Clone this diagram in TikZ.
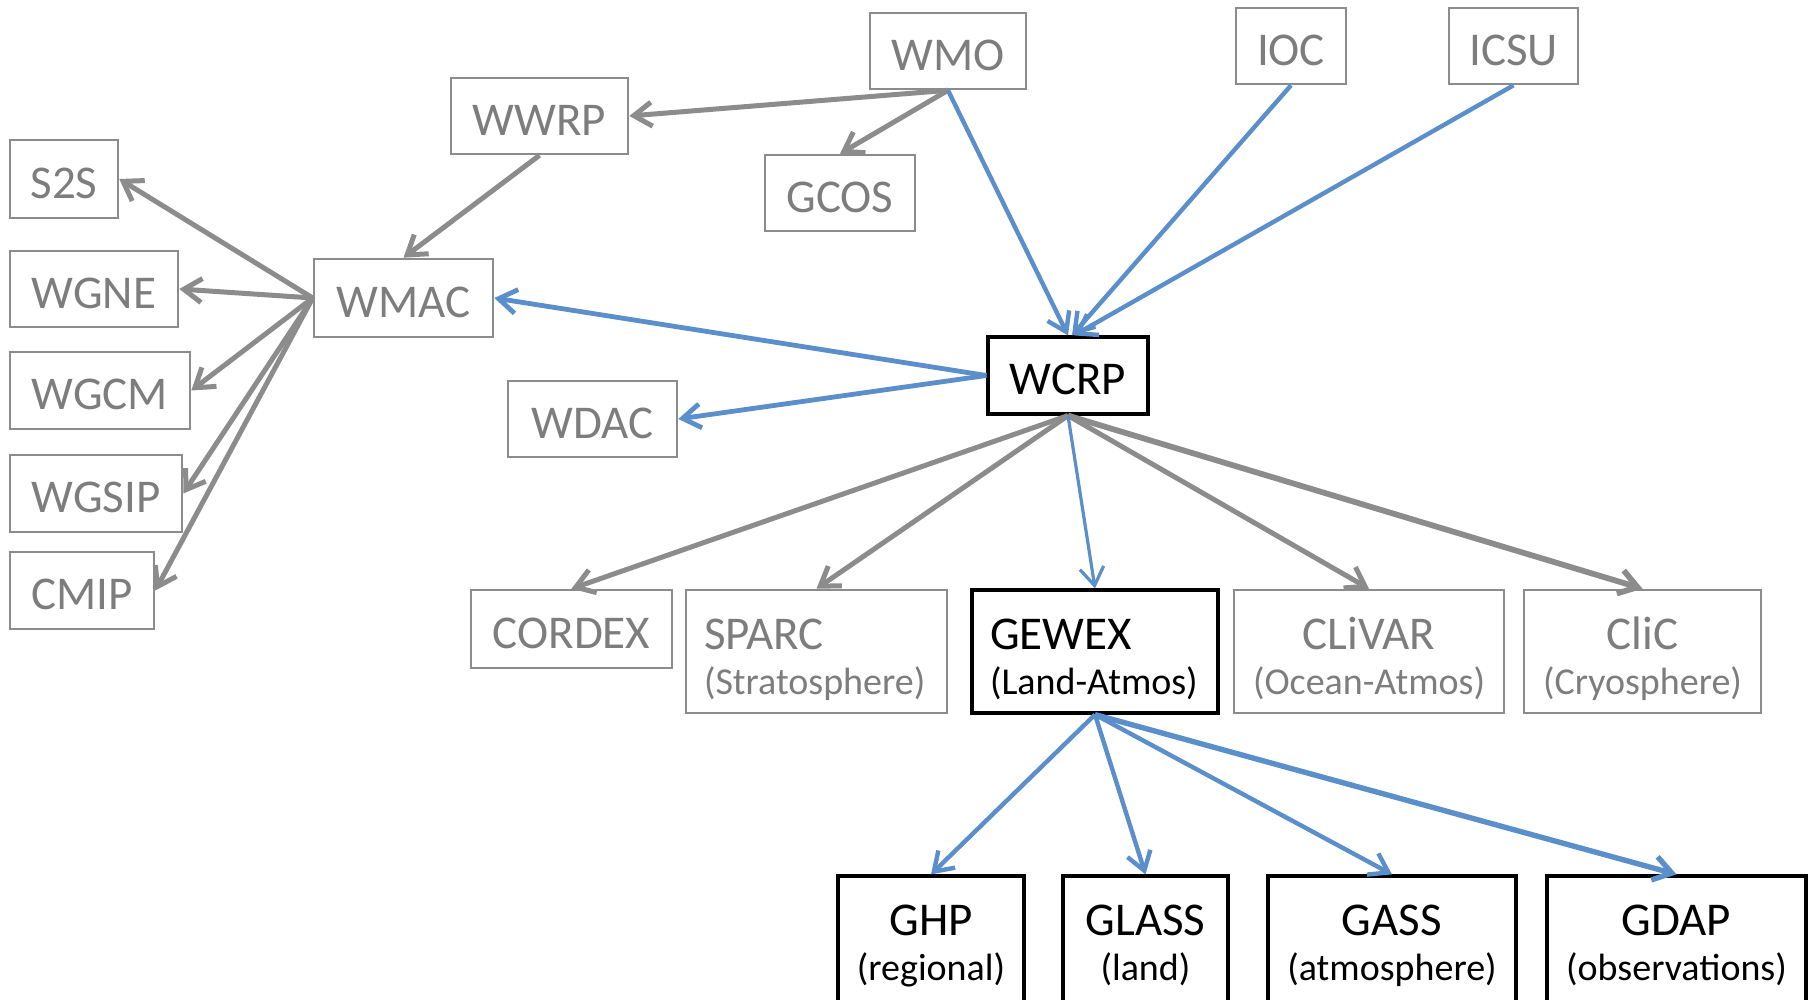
\documentclass[tikz,border=0pt]{standalone}
\usepackage{fontspec}
\setmainfont{Carlito}
\usetikzlibrary{arrows.meta}
\definecolor{boxgray}{RGB}{140,140,140}
\definecolor{txtgray}{RGB}{125,125,125}
\definecolor{arrgray}{RGB}{140,140,140}
\definecolor{arrblue}{RGB}{90,143,203}
\newcommand{\mainsz}{\fontsize{23.5}{22.5}\selectfont}
\newcommand{\subsz}{\fontsize{19}{22.5}\selectfont}
\begin{document}
\begin{tikzpicture}[x=0.5pt,y=-0.5pt,
  sz/.style 2 args={minimum width=0.5*#1pt, minimum height=0.5*#2pt},
  tw/.style={text width=0.5*#1pt},
  gbox/.style={draw=boxgray, line width=1.3pt, text=txtgray, inner sep=0pt, font=\mainsz, align=center},
  bbox/.style={draw=black, line width=1.6pt, text=black, inner sep=0pt, font=\mainsz, align=center},
  oneline/.style={text height=19.3pt, text depth=0pt},
  twoline/.style={text height=20pt, text depth=22.2pt},
  twolow/.style={text height=20pt, text depth=25.7pt},
  garr/.style={draw=arrgray, line width=2.5pt, -{Straight Barb[length=9pt,width=12pt]}},
  barr/.style={draw=arrblue, line width=2.2pt, -{Straight Barb[length=9pt,width=12pt]}},
]
\useasboundingbox (0,0) rectangle (1814,1000);
% top row
\node[gbox, oneline, sz={156}{76}] (wmo) at (948,51) {WMO};
\node[gbox, oneline, sz={110}{76}] (ioc) at (1291,46) {IOC};
\node[gbox, oneline, sz={129}{76}] (icsu) at (1513.5,46) {ICSU};
\node[gbox, oneline, sz={177}{76}] (wwrp) at (539.5,116) {WWRP};
\node[gbox, oneline, sz={150}{76}] (gcos) at (840,193) {GCOS};
% left column
\node[gbox, oneline, sz={108}{78}] (s2s) at (64,179) {S2S};
\node[gbox, oneline, sz={168}{76}] (wgne) at (94,289) {WGNE};
\node[gbox, oneline, sz={180}{77}] (wgcm) at (100,390.5) {WGCM};
\node[gbox, oneline, sz={172}{77}] (wgsip) at (96,493.5) {WGSIP};
\node[gbox, oneline, sz={144}{77}] (cmip) at (82,590.5) {CMIP};
\node[gbox, oneline, sz={179}{78}] (wmac) at (403.5,298) {WMAC};
% middle
\node[bbox, oneline, sz={160}{77}] (wcrp) at (1068,375.5) {WCRP};
\node[gbox, oneline, sz={169}{76}] (wdac) at (592.5,419) {WDAC};
% projects row
\node[gbox, oneline, sz={201}{78}] (cordex) at (571.5,629) {CORDEX};
\node[gbox, twoline, sz={261}{123}, align=left, tw=225] (sparc) at (816.5,651.5) {SPARC\\{\subsz (Stratosphere)}};
\node[bbox, twoline, sz={246}{123}, align=left, tw=210] (gewex) at (1095,651.5) {GEWEX\\{\subsz (Land-Atmos)}};
\node[gbox, twoline, sz={270}{123}, tw=260] (clivar) at (1369,651.5) {CLiVAR\\{\subsz (Ocean-Atmos)}};
\node[gbox, twoline, sz={237}{123}, tw=227] (clic) at (1642.5,651.5) {CliC\\{\subsz (Cryosphere)}};
% GEWEX panels
\node[bbox, twolow, sz={186}{130}, tw=176] (ghp) at (931,941) {GHP\\{\subsz (regional)}};
\node[bbox, twolow, sz={165}{130}, tw=155] (glass) at (1145.5,941) {GLASS\\{\subsz (land)}};
\node[bbox, twolow, sz={248}{130}, tw=238] (gass) at (1392,941) {GASS\\{\subsz (atmosphere)}};
\node[bbox, twolow, sz={259}{130}, tw=249] (gdap) at (1676.5,941) {GDAP\\{\subsz (observations)}};
% gray connectors
\draw[garr] (wmo.south) -- (wwrp.east);
\draw[garr] (wmo.south) -- (gcos.north);
\draw[garr] (wwrp.south) -- (wmac.north);
\draw[garr] (wmac.west) -- (s2s.east);
\draw[garr] (wmac.west) -- (wgne.east);
\draw[garr] (wmac.west) -- (wgcm.east);
\draw[garr] (wmac.west) -- (wgsip.east);
\draw[garr] (wmac.west) -- (cmip.east);
\draw[garr] (wcrp.south) -- (cordex.north);
\draw[garr] (wcrp.south) -- (sparc.north);
\draw[garr] (wcrp.south) -- (clivar.north);
\draw[garr, line width=2.9pt] (wcrp.south) -- (clic.north);
% blue connectors
\draw[barr] (wmo.south) -- (wcrp.north);
\draw[barr] (ioc.south) -- ([xshift=2pt]wcrp.north);
\draw[barr] (icsu.south) -- ([xshift=3pt]wcrp.north);
\draw[barr, line width=2.4pt] (wcrp.west) -- (wmac.east);
\draw[barr, line width=2.4pt] (wcrp.west) -- (wdac.east);
\draw[barr, line width=1.6pt] (wcrp.south) -- (gewex.north);
\draw[barr] (gewex.south) -- (ghp.north);
\draw[barr] (gewex.south) -- (glass.north);
\draw[barr] (gewex.south) -- (gass.north);
\draw[barr, line width=2.7pt] (gewex.south) -- (gdap.north);
\end{tikzpicture}
\end{document}
